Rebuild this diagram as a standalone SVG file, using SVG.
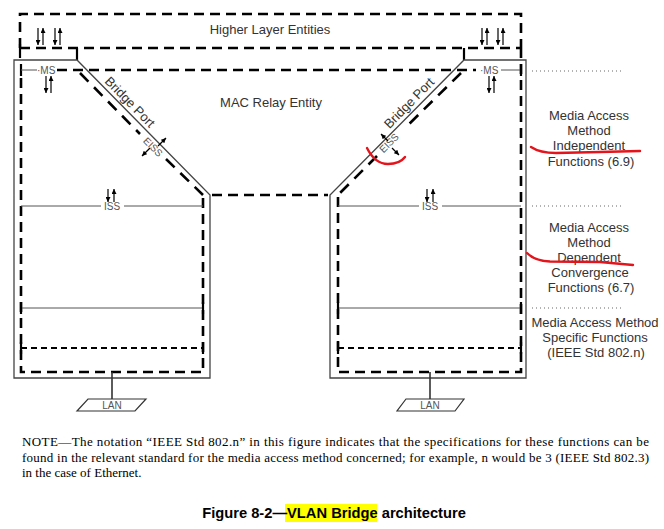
<svg xmlns="http://www.w3.org/2000/svg" width="664" height="529" viewBox="0 0 664 529">
<defs>
<style>
.dash{stroke:#000;stroke-width:2.6;stroke-dasharray:10 6;fill:none}
.dashg{stroke:#000;stroke-width:2.6;stroke-dasharray:12 8;fill:none}
.dsm{stroke:#000;stroke-width:1.8;stroke-dasharray:6 4;fill:none}
.sol{stroke:#444;stroke-width:1.3;fill:none}
.thin{stroke:#555;stroke-width:1;fill:none}
.tick{stroke:#000;stroke-width:2.2;fill:none}
.dots{stroke:#666;stroke-width:1;stroke-dasharray:1 3;fill:none}
.arr{stroke:#000;stroke-width:1.2;fill:none;marker-end:url(#ah)}
.lbl{font-family:"Liberation Sans",Arial,sans-serif;font-size:13px;fill:#333}
.sm{font-family:"Liberation Sans",Arial,sans-serif;font-size:10px;fill:#555}
.note{font-family:"Liberation Serif","Times New Roman",serif;font-size:13px;fill:#000}
.cap{font-family:"Liberation Sans",Arial,sans-serif;font-size:14.7px;font-weight:bold;fill:#000}
.red{stroke:#e3141b;stroke-width:2.4;fill:none;stroke-linecap:round}
</style>
<marker id="ah" viewBox="0 0 6 6" refX="6" refY="3" markerWidth="5" markerHeight="5" markerUnits="userSpaceOnUse" orient="auto"><path d="M0,0 L6,3 L0,6 z" fill="#000"/></marker>
</defs>
<rect width="664" height="529" fill="#fff"/>

<g id="higher-layer">
<path class="dash" d="M20,48 V14 H521 V48"/>
<line class="dash" x1="20" y1="48" x2="521" y2="48"/>
<line class="tick" x1="20" y1="44" x2="20" y2="58"/>
<line class="tick" x1="77" y1="48" x2="77" y2="60"/>
<line class="tick" x1="464" y1="48" x2="464" y2="60"/>
<text class="lbl" x="270" y="34" text-anchor="middle">Higher Layer Entities</text>
<line class="arr" x1="38" y1="28" x2="38" y2="45"/>
<line class="arr" x1="43" y1="45" x2="43" y2="28"/>
<line class="arr" x1="55" y1="28" x2="55" y2="45"/>
<line class="arr" x1="60" y1="45" x2="60" y2="28"/>
<line class="arr" x1="482" y1="28" x2="482" y2="45"/>
<line class="arr" x1="487" y1="45" x2="487" y2="28"/>
<line class="arr" x1="498" y1="28" x2="498" y2="45"/>
<line class="arr" x1="503" y1="45" x2="503" y2="28"/>
</g>

<g id="mac-relay">
<line class="dash" x1="57" y1="70" x2="476" y2="70"/>
<line class="dash" x1="212" y1="195" x2="328" y2="195"/>
<text class="lbl" x="271" y="107" text-anchor="middle">MAC Relay Entity</text>
</g>

<g id="port-left">
<path class="sol" d="M14,378 V60 H77 L210,195 V378 Z"/>
<path class="dash" d="M21,78 V372 H203 V197"/>
<line class="dashg" x1="80" y1="73" x2="140" y2="134"/>
<line class="dashg" x1="166" y1="159" x2="203" y2="195"/>
<line class="tick" x1="21" y1="64" x2="21" y2="76"/>
<line class="thin" x1="21" y1="70" x2="37" y2="70"/>
<text class="sm" x="37" y="74">·MS</text>
<line class="arr" x1="46" y1="76" x2="46" y2="93"/>
<line class="arr" x1="51" y1="93" x2="51" y2="76"/>
<text class="lbl" x="0" y="4.5" text-anchor="middle" transform="translate(130,102) rotate(45.5)">Bridge Port</text>
<text class="sm" x="0" y="3.5" text-anchor="middle" transform="translate(153,147) rotate(45)">EISS</text>
<line class="arr" x1="158" y1="146" x2="166" y2="138"/>
<line class="arr" x1="150" y1="148" x2="142" y2="156"/>
<line class="thin" x1="21" y1="206" x2="101" y2="206"/>
<line class="thin" x1="124" y1="206" x2="203" y2="206"/>
<text class="sm" x="112" y="210" text-anchor="middle">ISS</text>
<line class="arr" x1="108" y1="189" x2="108" y2="202"/>
<line class="arr" x1="114" y1="202" x2="114" y2="189"/>
<line class="thin" x1="21" y1="308" x2="203" y2="308"/>
<line class="tick" x1="21" y1="302" x2="21" y2="314"/>
<line class="tick" x1="203" y1="302" x2="203" y2="314"/>
<line class="dsm" x1="21" y1="348" x2="203" y2="348"/>
<line class="tick" x1="21" y1="342" x2="21" y2="354"/>
<line class="tick" x1="203" y1="342" x2="203" y2="354"/>
</g>

<g id="port-right">
<path class="sol" d="M330,378 V195 L464,60 H526 V378 Z"/>
<path class="dash" d="M338,197 V372 H521 V48"/>
<line class="dashg" x1="461" y1="73" x2="404" y2="129"/>
<line class="dashg" x1="377" y1="156" x2="338" y2="195"/>
<text class="sm" x="480" y="74">·MS</text>
<line class="thin" x1="501" y1="70" x2="521" y2="70"/>
<line class="tick" x1="521" y1="64" x2="521" y2="76"/>
<line class="arr" x1="489" y1="76" x2="489" y2="93"/>
<line class="arr" x1="494" y1="93" x2="494" y2="76"/>
<text class="lbl" x="0" y="4.5" text-anchor="middle" transform="translate(409,103) rotate(-45.5)">Bridge Port</text>
<text class="sm" x="0" y="3.5" text-anchor="middle" transform="translate(389,143) rotate(-45)">EISS</text>
<line class="arr" x1="388" y1="141" x2="381" y2="134"/>
<line class="arr" x1="392" y1="148" x2="399" y2="155"/>
<line class="thin" x1="338" y1="206" x2="419" y2="206"/>
<line class="thin" x1="442" y1="206" x2="521" y2="206"/>
<text class="sm" x="430" y="210" text-anchor="middle">ISS</text>
<line class="arr" x1="427" y1="189" x2="427" y2="202"/>
<line class="arr" x1="433" y1="202" x2="433" y2="189"/>
<line class="thin" x1="338" y1="308" x2="521" y2="308"/>
<line class="tick" x1="338" y1="302" x2="338" y2="314"/>
<line class="tick" x1="521" y1="302" x2="521" y2="314"/>
<line class="dsm" x1="338" y1="348" x2="521" y2="348"/>
<line class="tick" x1="338" y1="342" x2="338" y2="354"/>
<line class="tick" x1="521" y1="342" x2="521" y2="354"/>
</g>

<g id="connectors">
<line stroke="#333" stroke-width="1.6" x1="112" y1="372" x2="112" y2="399"/>
<line stroke="#333" stroke-width="1.6" x1="430" y1="372" x2="430" y2="399"/>
</g>

<g id="lan-left">
<path d="M88,399 H146 L135,411 H77 Z" fill="#fff" stroke="#333" stroke-width="1.2"/>
<text class="sm" x="112" y="408.5" text-anchor="middle" fill="#333">LAN</text>
</g>
<g id="lan-right">
<path d="M406,399 H464 L455,411 H397 Z" fill="#fff" stroke="#333" stroke-width="1.2"/>
<text class="sm" x="430" y="408.5" text-anchor="middle" fill="#333">LAN</text>
</g>

<g id="layer-labels">
<line class="dots" x1="532" y1="71" x2="621" y2="71"/>
<line class="dots" x1="532" y1="206" x2="621" y2="206"/>
<line class="dots" x1="532" y1="308" x2="621" y2="308"/>
<g class="lbl" text-anchor="middle">
<text x="589" y="120">Media Access</text>
<text x="589" y="135">Method</text>
<text x="589" y="150">Independent</text>
<text x="591" y="166">Functions (6.9)</text>
<text x="589" y="232">Media Access</text>
<text x="589" y="247">Method</text>
<text x="589" y="262">Dependent</text>
<text x="590" y="277">Convergence</text>
<text x="591" y="292">Functions (6.7)</text>
<text x="595" y="327">Media Access Method</text>
<text x="595" y="342">Specific Functions</text>
<text x="596" y="357">(IEEE Std 802.n)</text>
</g>
</g>

<g id="annotations">
<path class="red" d="M367,148 C372,158 378,164 388,164 C396,164 402,161 405,157"/>
<path class="red" d="M531,147 Q540,153 556,153 L600,152 L640,151"/>
<path class="red" d="M527,253 Q535,261 550,261.5 L600,262 L633,265"/>
</g>

<g id="note">
<text class="note" x="22" y="446" textLength="627" lengthAdjust="spacing">NOTE—The notation “IEEE Std 802.n” in this figure indicates that the specifications for these functions can be</text>
<text class="note" x="22" y="462" textLength="627" lengthAdjust="spacing">found in the relevant standard for the media access method concerned; for example, n would be 3 (IEEE Std 802.3)</text>
<text class="note" x="22" y="477">in the case of Ethernet.</text>
</g>

<g id="caption">
<rect x="285" y="504" width="92" height="18" fill="#ffff00"/>
<text class="cap" x="334" y="518" text-anchor="middle">Figure 8-2—VLAN Bridge architecture</text>
</g>
</svg>
